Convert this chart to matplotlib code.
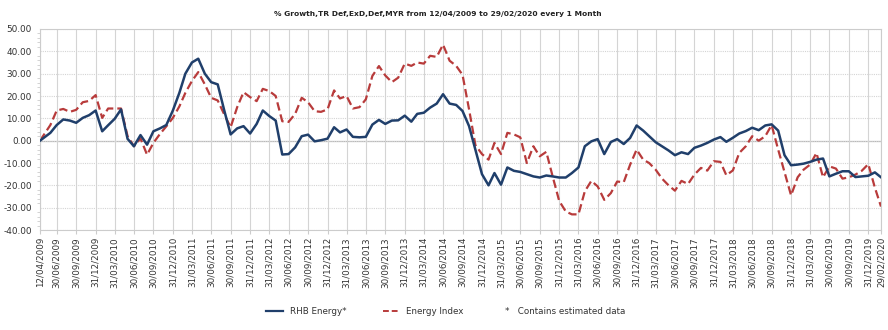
import matplotlib
matplotlib.use("Agg")
import matplotlib.pyplot as plt
import pandas as pd
from matplotlib.lines import Line2D
from matplotlib.ticker import MultipleLocator, FormatStrFormatter

# monthly points: start date then month ends up to 29/02/2020
dates = [pd.Timestamp("2009-04-12")] + list(
    pd.date_range("2009-05-31", "2020-02-29", freq=pd.offsets.MonthEnd()))

rhb_energy = [
    0, 3.5, 7, 9.5, 9, 8, 10.2, 11.4, 13.5, 4.2, 6.9, 9.8, 14, 0.8, -2.5, 2.5, -1.8, 4.2, 5.5, 7,
    13.5, 21.5, 30, 35, 36.7, 30, 26.2, 25.2, 13.5, 2.8, 5.5, 6.5, 3.2, 7.5, 13.5, 11, 9, -6.2, -6, -3,
    2, 2.7, -0.3, 0.2, 0.9, 6, 3.7, 5, 1.7, 1.5, 1.7, 7.2, 9.3, 7.5, 9, 9.1, 11.2, 8.5, 12, 12.5,
    14.8, 16.6, 20.8, 16.6, 16, 13.3, 6.5, -4, -15, -20, -14.5, -19.7, -12, -13.5, -14, -15, -16, -16.5, -15.6, -16,
    -16.5, -16.5, -14.5, -12, -2.5, -0.3, 0.7, -6, -0.6, 0.7, -1.5, 1.2, 6.8, 4.5, 2, -0.7, -2.5, -4.4, -6.5, -5.2,
    -6, -3.2, -2.2, -1, 0.5, 1.6, -0.5, 1.3, 3.2, 4.3, 5.8, 4.7, 6.8, 7.3, 4.5, -6.5, -11, -10.7, -10.3, -9.5,
    -8.5, -8, -16, -14.8, -13.7, -13.7, -16.3, -16, -15.7, -14.2, -16.4,
]

energy_index = [
    0, 7, 13.5, 14.2, 12.9, 13.8, 17.2, 17.8, 20.4, 10.2, 14.4, 14.4, 14.4, 2, -2.5, 1, -6.3, -1, 3, 6.4,
    10.2, 15.4, 21.4, 26.7, 30.7, 25.2, 19.2, 18, 11.7, 6, 15, 21.7, 19.5, 17.7, 23.2, 22.2, 20, 8.7, 8.4, 12,
    19.2, 17.2, 13.2, 12.9, 14, 22.5, 18.9, 20, 14.4, 15, 18.5, 29, 33.4, 29.2, 26.2, 28.2, 34.5, 33.5, 35, 34.5,
    38, 37.5, 43, 35.8, 33.5, 29.5, 14, -2, -6, -8.5, -1, -6, 3.5, 2.8, 1.5, -10, -2.5, -7, -5, -16,
    -27, -31.7, -33, -33, -22.7, -18, -20.5, -26.5, -23.5, -18.3, -18.6, -10.8, -4, -8.5, -10, -13, -17, -20, -22.4, -18,
    -19.4, -15.2, -12.2, -13.4, -9.2, -9.5, -15.5, -13.3, -5.5, -2.5, 2, 0, 2, 7, -4, -14, -24.5, -16.4, -13, -10.7,
    -5.5, -16.4, -11.5, -12.5, -17, -16.4, -15.2, -13.5, -10.5, -21, -29.5,
]

tick_dates = ([pd.Timestamp("2009-04-12")]
              + list(pd.date_range("2009-06-30", "2019-12-31", freq=pd.offsets.QuarterEnd()))
              + [pd.Timestamp("2020-02-29")])
tick_labels = [d.strftime("%d/%m/%Y") for d in tick_dates]

title = "% Growth,TR Def,ExD,Def,MYR from 12/04/2009 to 29/02/2020 every 1 Month"

blue = "#203f6b"
red = "#b83b3b"

fig = plt.figure(figsize=(8.88, 3.30), dpi=100)
ax = fig.add_axes([40 / 888, 1 - 230 / 330, 841 / 888, 201 / 330])

ax.plot(dates, rhb_energy, color=blue, linewidth=1.8, solid_joinstyle="round", zorder=3)
ax.plot(dates, energy_index, color=red, linewidth=1.6, linestyle=(0, (3.8, 1.8)), zorder=2)

ax.set_xlim(dates[0], dates[-1])
ax.set_ylim(-40, 50)
ax.yaxis.set_major_locator(MultipleLocator(10))
ax.yaxis.set_minor_locator(MultipleLocator(2))
ax.yaxis.set_major_formatter(FormatStrFormatter("%.2f"))
ax.set_xticks(tick_dates)
ax.set_xticklabels(tick_labels, rotation=90, fontsize=6.3, color="#333333")
ax.tick_params(axis="y", labelsize=6.4, colors="#333333", length=0, pad=6)
ax.tick_params(axis="y", which="minor", length=2, color="#cccccc")
ax.tick_params(axis="x", length=3, color="#cccccc", pad=2)

ax.grid(True, axis="x", color="#d4d4d4", linewidth=0.8)
ax.grid(True, axis="y", color="#d4d4d4", linewidth=0.8, linestyle=(0, (1, 1)))
ax.axhline(0, color="#b8b8b8", linewidth=0.9, zorder=1)
for s in ax.spines.values():
    s.set_color("#cccccc")
    s.set_linewidth(0.8)

fig.text(438 / 888, 1 - 14 / 330, title, ha="center", va="center", fontsize=5.4,
         fontweight="bold", color="#222222")

handles = [Line2D([], [], color=blue, linewidth=1.6),
           Line2D([], [], color=red, linewidth=1.4, linestyle=(0, (3, 1.5)))]
fig.legend(handles, ["RHB Energy*", "Energy Index"], loc="center left",
           bbox_to_anchor=(258 / 888, 1 - 312 / 330), ncol=2, frameon=False,
           fontsize=6.3, handlelength=2.0, columnspacing=4.2, handletextpad=0.7,
           labelcolor="#333333")
fig.text(505 / 888, 1 - 312 / 330, "*   Contains estimated data", ha="left", va="center",
         fontsize=6.3, color="#333333")

fig.savefig("out.png", dpi=100)
